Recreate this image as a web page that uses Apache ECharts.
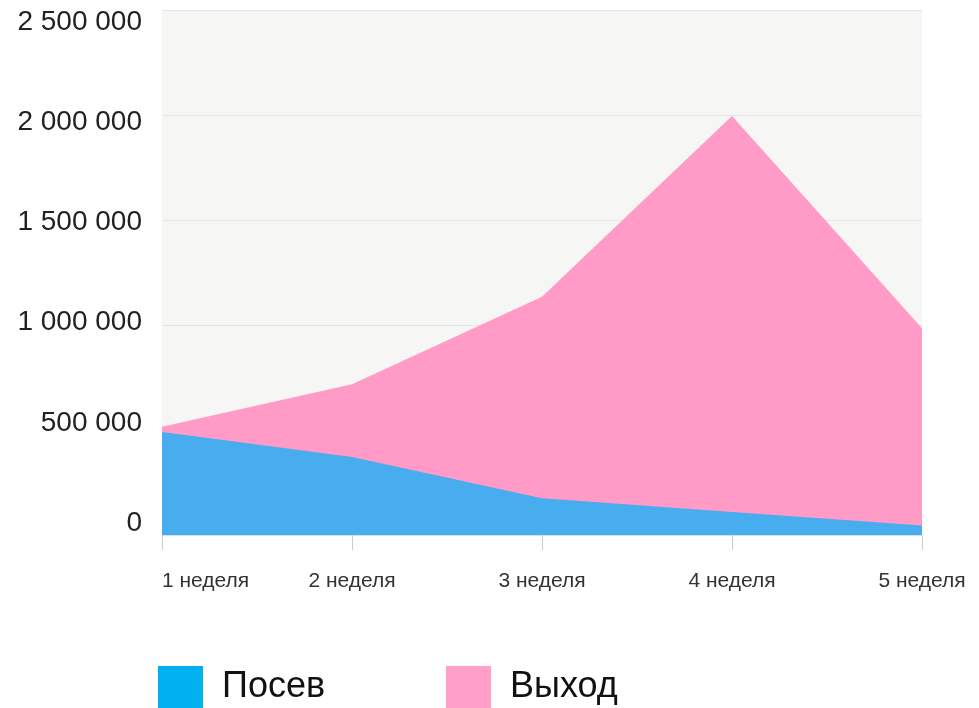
<!DOCTYPE html>
<html>
<head>
<meta charset="utf-8">
<script src="https://cdn.jsdelivr.net/npm/echarts@6/dist/echarts.min.js"></script>
<style>
  html, body { margin: 0; padding: 0; background: #fff; }
  #chart { width: 979px; height: 708px; }
</style>
</head>
<body>
<div id="chart"></div>
<script>
// данные
const weeks = ['1 неделя', '2 неделя', '3 неделя', '4 неделя', '5 неделя']
const posev = [490000, 372000, 175000, 110000, 45000]
const vyhod = [515000, 718000, 1135000, 1995000, 985000]
const yTicks = [0, 500000, 1000000, 1500000, 2000000, 2500000]

const fmt = v => String(v).replace(/\B(?=(\d{3})+(?!\d))/g, ' ')

const chart = echarts.init(document.getElementById('chart'))
chart.setOption({
  animation: false,
  textStyle: { fontFamily: 'Liberation Sans, Arial, sans-serif' },
  grid: [
    { left: 162, right: 57, top: 10, bottom: 173, show: true, backgroundColor: '#F6F6F4', borderWidth: 0 },
    // только для подписей оси Y
    { left: 162, right: 57, top: 22, bottom: 185 }
  ],
  legend: {
    left: 153,
    top: 661,
    itemWidth: 45,
    itemHeight: 42,
    itemGap: 121,
    icon: 'rect',
    textStyle: { fontSize: 36, color: '#111', padding: [0, 0, 0, 14] },
    data: [
      { name: 'Посев', itemStyle: { color: '#00B0F0' } },
      { name: 'Выход', itemStyle: { color: '#FF9FCA' } }
    ]
  },
  xAxis: [
    {
      gridIndex: 0,
      type: 'category',
      data: weeks,
      boundaryGap: false,
      axisLine: { show: true, lineStyle: { color: '#D6E2EA' } },
      axisTick: { show: true, length: 15, lineStyle: { color: '#CCCCCC' } },
      axisLabel: { fontSize: 21, color: '#333', margin: 36, alignMinLabel: 'left' },
      splitLine: { show: false }
    },
    { gridIndex: 1, type: 'category', data: weeks, show: false }
  ],
  yAxis: [
    {
      gridIndex: 0,
      type: 'value',
      min: 0,
      max: 2500000,
      interval: 500000,
      axisLabel: { show: false },
      axisLine: { show: false },
      axisTick: { show: false },
      splitLine: { lineStyle: { color: '#E4E4E4', width: 1 } }
    },
    {
      gridIndex: 1,
      type: 'value',
      min: yTicks[0],
      max: yTicks[yTicks.length - 1],
      interval: yTicks[1] - yTicks[0],
      axisLabel: { fontSize: 28, color: '#222', margin: 20, formatter: fmt },
      axisLine: { show: false },
      axisTick: { show: false },
      splitLine: { show: false }
    }
  ],
  series: [
    {
      name: 'Выход',
      type: 'line',
      data: vyhod,
      symbol: 'none',
      lineStyle: { width: 0 },
      itemStyle: { color: '#FF9BC6' },
      areaStyle: { color: '#FF9BC6', opacity: 1 }
    },
    {
      name: 'Посев',
      type: 'line',
      data: posev,
      symbol: 'none',
      lineStyle: { width: 0 },
      itemStyle: { color: '#48ADEF' },
      areaStyle: { color: '#48ADEF', opacity: 1 }
    }
  ]
})
</script>
</body>
</html>
